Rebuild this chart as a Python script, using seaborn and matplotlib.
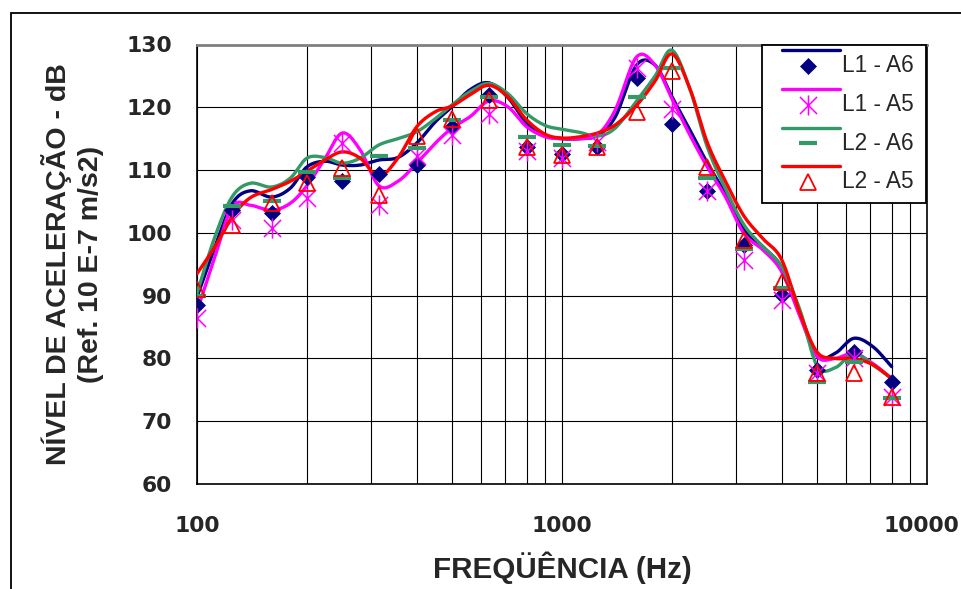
import numpy as np
import pandas as pd
import matplotlib
matplotlib.use("Agg")
import matplotlib.pyplot as plt
from matplotlib.lines import Line2D
from matplotlib.patches import Rectangle
from matplotlib.path import Path
from matplotlib.transforms import ScaledTranslation
import seaborn as sns

# ---- measured band levels (1/3-octave centres, Hz) ----
band_freq = [100, 125, 160, 200, 250, 315, 400, 500, 630, 800,
             1000, 1250, 1600, 2000, 2500, 3150, 4000, 5000, 6300, 8000]

l1_a6_pts = [88.5, 103.6, 103.1, 108.9, 108.2, 109.4, 110.8, 116.9, 122.0, 113.7,
             112.5, 113.7, 124.6, 117.4, 106.7, 98.1, 90.1, 78.2, 81.1, 76.2]
l1_a5_pts = [86.4, 102.0, 100.8, 105.5, 114.3, 104.4, 112.2, 115.6, 119.0, 113.1,
             111.9, 114.5, 126.2, 119.8, 106.6, 95.7, 89.3, 77.7, 80.0, 73.8]
l2_a6_pts = [90.0, 104.2, 105.1, 109.7, 108.7, 112.2, 113.5, 117.9, 121.7, 115.3,
             114.0, 113.8, 121.7, 126.2, 108.7, 97.4, 91.2, 76.2, 79.4, 73.7]
l2_a5_pts = [91.0, 101.3, 104.7, 107.9, 110.3, 106.0, 115.5, 118.1, 121.2, 113.7,
             112.4, 113.7, 119.3, 125.7, 110.5, 98.9, 92.2, 77.7, 77.7, 73.9]

# ---- continuous spectra (1/6-octave resolution) ----
fine_freq = [100, 112, 125, 140, 160, 180, 200, 224, 250, 280,
             315, 355, 400, 450, 500, 560, 630, 710, 800, 900,
             1000, 1120, 1250, 1400, 1600, 1800, 2000, 2240, 2500, 2800,
             3150, 3550, 4000, 4500, 5000, 5600, 6300, 7100, 8000]

l1_a6_curve = [89.8, 97.8, 104.7, 106.7, 105.7, 107.1, 110.5, 111.4, 110.8, 110.8,
               111.6, 112.0, 114.3, 117.7, 120.1, 122.8, 123.9, 121.6, 117.5, 115.5,
               115.0, 115.0, 115.5, 118.5, 126.7, 126.7, 121.7, 116.4, 111.1, 106.3,
               100.5, 97.8, 94.4, 87.0, 80.4, 80.8, 83.2, 81.9, 78.7]
l1_a5_curve = [87.5, 96.2, 104.2, 104.4, 103.6, 104.7, 107.5, 111.8, 115.9, 113.2,
               107.5, 108.2, 111.1, 114.3, 116.7, 118.5, 121.0, 120.1, 116.9, 115.3,
               115.0, 115.0, 115.6, 119.6, 128.0, 126.7, 121.4, 115.6, 110.5, 105.8,
               99.9, 97.3, 93.8, 86.5, 80.3, 80.0, 80.8, 79.2, 76.8]
l2_a6_curve = [90.4, 99.4, 105.8, 107.9, 107.3, 108.7, 111.9, 112.0, 111.1, 111.9,
               114.0, 115.0, 116.1, 118.2, 120.4, 122.5, 123.8, 122.2, 119.0, 117.1,
               116.5, 116.0, 115.4, 116.7, 121.0, 125.0, 129.1, 122.9, 113.7, 107.1,
               101.3, 97.8, 94.6, 87.5, 78.8, 78.5, 80.8, 79.0, 76.8]
l2_a5_curve = [93.5, 97.8, 102.6, 105.6, 106.9, 108.2, 109.8, 111.6, 112.9, 111.9,
               109.0, 111.9, 116.9, 119.3, 120.2, 122.0, 123.5, 121.7, 118.0, 115.7,
               115.1, 115.3, 115.9, 117.2, 120.3, 124.2, 128.5, 123.0, 114.4, 108.3,
               102.7, 99.1, 95.7, 87.0, 81.0, 80.0, 80.0, 79.0, 76.8]

series_names = ["L1 - A6", "L1 - A5", "L2 - A6", "L2 - A5"]
series_colors = ["#000080", "#FF00FF", "#339966", "#FF0000"]
band_levels = [l1_a6_pts, l1_a5_pts, l2_a6_pts, l2_a5_pts]
curve_levels = [l1_a6_curve, l1_a5_curve, l2_a6_curve, l2_a5_curve]

x_ticks = [100, 1000, 10000]
x_tick_labels = ["100", "1000", "10000"]
y_ticks = [60, 70, 80, 90, 100, 110, 120, 130]


def catmull_rom(xs, ys, n=16):
    """Smooth curve through the points, evaluated in log-frequency space."""
    P = np.column_stack([np.log10(xs), np.asarray(ys, float)])
    P = np.vstack([2 * P[0] - P[1], P, 2 * P[-1] - P[-2]])
    t = np.linspace(0, 1, n, endpoint=False)[:, None]
    segs = []
    for i in range(1, len(P) - 2):
        p0, p1, p2, p3 = P[i - 1], P[i], P[i + 1], P[i + 2]
        segs.append(0.5 * (2 * p1 + (-p0 + p2) * t
                           + (2 * p0 - 5 * p1 + 4 * p2 - p3) * t ** 2
                           + (-p0 + 3 * p1 - 3 * p2 + p3) * t ** 3))
    segs.append(P[-2][None, :])
    arr = np.vstack(segs)
    return 10 ** arr[:, 0], arr[:, 1]


# asterisk: vertical bar plus an X
star_path = Path([(0, -1), (0, 1), (-0.85, -0.85), (0.85, 0.85), (-0.85, 0.85), (0.85, -0.85)],
                 [Path.MOVETO, Path.LINETO, Path.MOVETO, Path.LINETO, Path.MOVETO, Path.LINETO])

sns.set_theme(style="white")
plt.rcParams["font.family"] = ["Liberation Sans", "DejaVu Sans"]

fig = plt.figure(figsize=(9.62, 5.89), dpi=100)
ax = fig.add_axes([197 / 962, 1 - 484 / 589, 730 / 962, 439.5 / 589])

# outer chart frame
fig.patches.append(Rectangle((11 / 962, -0.1), 1.2, (589 - 13) / 589 + 0.1,
                             transform=fig.transFigure, fill=False,
                             edgecolor="black", linewidth=1.3, zorder=0))

ax.set_xscale("log")
ax.set_xlim(100, 10000)
ax.set_ylim(60, 130)

# grid
ax.grid(True, which="major", axis="both", color="black", linewidth=0.8)
ax.grid(True, which="minor", axis="x", color="black", linewidth=0.8)
ax.set_axisbelow(True)

# continuous spectra
rows = []
for name, vals in zip(series_names, curve_levels):
    sx, sy = catmull_rom(fine_freq, vals)
    rows.append(pd.DataFrame({"freq": sx, "level": sy, "serie": name}))
curves = pd.concat(rows, ignore_index=True)
for name, color in zip(series_names, series_colors):
    sub = curves[curves["serie"] == name]
    sns.lineplot(data=sub, x="freq", y="level", sort=False, estimator=None,
                 color=color, linewidth=2.4, ax=ax, legend=False, zorder=3)

# band markers
marker_styles = [
    dict(marker="D", markersize=7.8, markerfacecolor="#000080", markeredgecolor="#000080", markeredgewidth=0.5),
    dict(marker=star_path, markersize=14.5, markerfacecolor="none", markeredgecolor="#FF00FF", markeredgewidth=1.1),
    dict(marker="_", markersize=13, markerfacecolor="none", markeredgecolor="#339966", markeredgewidth=3),
    dict(marker="^", markersize=11, markerfacecolor="none", markeredgecolor="#FF0000", markeredgewidth=1.3),
]
for name, vals, st in zip(series_names, band_levels, marker_styles):
    sns.lineplot(x=band_freq, y=vals, linestyle="none", estimator=None,
                 ax=ax, legend=False, zorder=4, **st)

# axes styling
tick_font = dict(family="DejaVu Sans", weight="bold", size=15.7)
ax.set_xticks(x_ticks)
ax.set_xticklabels(x_tick_labels, fontdict=tick_font)
ax.set_yticks(y_ticks)
ax.set_yticklabels([str(v) for v in y_ticks], fontdict=tick_font)
ax.xaxis.set_minor_formatter(matplotlib.ticker.NullFormatter())
ax.tick_params(axis="x", which="major", direction="inout", length=12, width=1,
               color="black", pad=17)
ax.tick_params(axis="x", which="minor", direction="in", length=4, width=0.8, color="black")
ax.tick_params(axis="y", which="major", direction="out", length=7, width=1,
               color="black", pad=11)

# keep the last frequency label inside the canvas
last_lab = ax.get_xticklabels()[-1]
last_lab.set_transform(last_lab.get_transform() + ScaledTranslation(-0.06, 0, fig.dpi_scale_trans))

for side in ["left", "bottom", "right"]:
    ax.spines[side].set_color("black")
    ax.spines[side].set_linewidth(1.2)
ax.spines["top"].set_color("#808080")
ax.spines["top"].set_linewidth(2)

ax.set_xlabel("FREQÜÊNCIA (Hz)", fontsize=21.3, fontweight="bold")
ax.set_ylabel("NÍVEL DE ACELERAÇÃO - dB\n(Ref. 10 E-7 m/s2)", fontsize=20.5,
              fontweight="bold", linespacing=1.3)
ax.xaxis.label.set_va("center")
ax.xaxis.set_label_coords(0.5, -0.191)
ax.yaxis.label.set_va("center")
ax.yaxis.set_label_coords(-0.170, 0.5)


# legend box: a line row and a marker row per series
def ax_x(px):
    return (px - 197) / 730


def ax_y(py):
    return (484 - py) / 439.5


ax.add_patch(Rectangle((ax_x(762), ax_y(203)), ax_x(926) - ax_x(762), ax_y(45) - ax_y(203),
                       transform=ax.transAxes, facecolor="white", edgecolor="black",
                       linewidth=1.3, clip_on=False, zorder=10))
line_rows = [50, 88.5, 127.5, 166]
marker_rows = [66, 104.5, 143.2, 181.7]
for name, color, st, ly, my in zip(series_names, series_colors, marker_styles, line_rows, marker_rows):
    ax.add_line(Line2D([ax_x(782), ax_x(840)], [ax_y(ly), ax_y(ly)], color=color,
                       linewidth=2.4, transform=ax.transAxes, clip_on=False, zorder=11))
    ax.add_line(Line2D([ax_x(808)], [ax_y(my)], linestyle="none", transform=ax.transAxes,
                       clip_on=False, zorder=11, **st))
    ax.text(ax_x(842), ax_y(my), name, transform=ax.transAxes, fontsize=16.3,
            ha="left", va="center", zorder=11)

fig.savefig("out.png", dpi=100)
